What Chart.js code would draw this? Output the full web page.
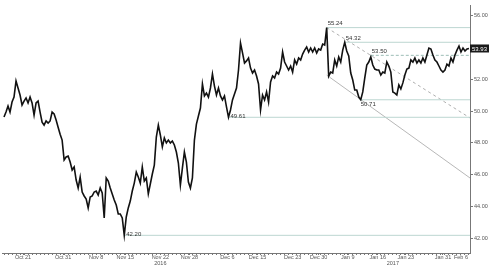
<!DOCTYPE html>
<html>
<head>
  <title>WTI</title>
  <script src="https://cdn.jsdelivr.net/npm/chart.js"></script>
  <style>
    html, body { margin: 0; padding: 0; background: #fff; }
    .wrap { width: 494px; height: 271px; }
  </style>
</head>
<body>
  <div class="wrap"><canvas id="oilChart"></canvas></div>
  <script>
    // one close every 2 bars along the x axis
    const priceValues = [
      49.63, 49.94, 50.32, 49.94, 50.57, 50.88, 51.89, 51.45, 51.01, 50.38,
      50.63, 50.82, 50.51, 50.88, 50.51, 49.75, 50.51, 50.63, 49.94, 49.31,
      49.12, 49.38, 49.25, 49.38, 49.94, 49.82, 49.44, 48.99, 48.55, 48.18,
      46.93, 47.12, 47.18, 46.80, 46.30, 46.49, 45.67, 45.17, 45.86, 44.92,
      44.67, 44.48, 43.92, 44.61, 44.67, 44.92, 44.98, 44.73, 45.17, 44.86,
      43.29, 45.80, 45.61, 45.17, 44.80, 44.42, 44.10, 43.54, 43.54, 43.29,
      42.20, 43.35, 43.92, 44.35, 44.98, 45.48, 46.17, 45.86, 45.48, 46.49,
      45.61, 45.80, 44.80, 45.42, 46.05, 46.61, 48.37, 49.12, 48.50, 47.75,
      48.31, 48.00, 48.18, 48.00, 48.12, 47.87, 47.43, 46.74, 45.36, 46.42,
      47.43, 46.80, 45.55, 45.17, 45.80, 48.18, 49.18, 49.69, 50.19, 51.70,
      50.95, 51.13, 50.88, 51.45, 52.33, 51.57, 51.01, 51.45, 50.95, 50.70,
      50.95, 50.26, 49.61, 50.07, 50.70, 51.07, 51.45, 52.58, 54.27, 53.65,
      53.02, 53.15, 53.33, 52.70, 52.39, 52.58, 52.20, 51.70, 50.07, 51.01,
      50.70, 51.20, 50.57, 51.83, 52.20, 52.08, 52.45, 52.33, 52.70, 53.71,
      53.08, 52.83, 52.58, 52.83, 52.45, 53.21, 52.95, 53.33, 53.21, 53.58,
      53.83, 54.02, 53.71, 53.96, 53.71, 53.96, 53.65, 53.90, 53.83, 54.21,
      54.15, 55.24, 52.20, 52.45, 52.39, 53.21, 52.83, 53.40, 53.08, 53.83,
      54.32, 53.77, 53.46, 52.39, 51.95, 51.32, 51.32, 50.88, 50.71, 51.20,
      52.08, 52.89, 53.08, 53.40, 52.89, 52.64, 52.58, 52.58, 52.26, 52.45,
      52.39, 53.08, 52.83, 52.45, 51.20, 51.13, 51.01, 51.64, 51.39, 51.77,
      52.26, 52.64, 52.70, 53.21, 53.08, 53.33, 53.02, 53.21, 53.02, 53.33,
      53.08, 53.52, 53.96, 53.90, 53.52, 53.21, 53.08, 52.83, 52.58, 52.45,
      52.58, 52.95, 52.83, 53.33, 53.08, 53.52, 53.83, 54.08, 53.71, 53.96,
      53.77, 53.90, 53.93
    ];

    const tickBars = [19, 59, 92, 121, 156, 185, 223, 253, 288, 314, 343, 373, 401, 438, 456];
    const tickLabels = ['Oct 21', 'Oct 31', 'Nov 8', 'Nov 15', 'Nov 22', 'Nov 28', 'Dec 6', 'Dec 15',
      'Dec 23', 'Dec 30', 'Jan 9', 'Jan 16', 'Jan 23', 'Jan 31', 'Feb 6'];
    const yearBars = [156, 388];
    const yearLabels = ['2016', '2017'];

    // support / resistance levels and where they start
    const levelValues = [55.24, 54.32, 53.50, 50.71, 49.61, 42.20];
    const levelStartBars = [322, 340, 366, 355, 224, 120];
    const levelLabelPos = ['above', 'above', 'above', 'below', 'on', 'on'];
    const lastBar = 465;

    // falling channel from the Jan 3 high
    const channelBars = [322, 465];
    const channelTop = [55.24, 49.57];
    const channelBottom = [52.26, 45.80];

    const lastPrice = priceValues[priceValues.length - 1];

    const pricePoints = priceValues.map((v, i) => ({ x: i * 2, y: v }));

    const levelSets = levelValues.map((v, i) => ({
      data: [{ x: levelStartBars[i], y: v }, { x: lastBar, y: v }],
      borderColor: v === 53.50 ? '#9dbdb6' : '#bcd6d1',
      borderWidth: 1,
      borderDash: v === 53.50 ? [3, 2] : [],
      pointRadius: 0
    }));

    const labelPlugin = {
      id: 'levelLabels',
      afterDraw(chart) {
        const { ctx, scales: { x, y } } = chart;
        ctx.save();
        ctx.font = '6px "Liberation Sans"';
        ctx.fillStyle = '#333';
        ctx.textAlign = 'left';
        levelValues.forEach((v, i) => {
          const px = x.getPixelForValue(levelStartBars[i]);
          const py = y.getPixelForValue(v);
          if (levelLabelPos[i] === 'below') {
            ctx.textBaseline = 'top';
            ctx.fillText(v.toFixed(2), px + 1, py + 2);
          } else if (levelLabelPos[i] === 'on') {
            ctx.textBaseline = 'bottom';
            ctx.fillText(v.toFixed(2), px + 2, py + 2);
          } else {
            ctx.textBaseline = 'bottom';
            ctx.fillText(v.toFixed(2), px + 1, py - 1);
          }
        });
        // last price tag on the axis
        const ty = y.getPixelForValue(lastPrice);
        const tx = chart.chartArea.right;
        ctx.fillStyle = '#1a1a1a';
        ctx.fillRect(tx, ty - 4, 19, 8);
        ctx.fillStyle = '#fff';
        ctx.textBaseline = 'middle';
        ctx.fillText(lastPrice.toFixed(2), tx + 2, ty + 0.5);
        ctx.restore();
      }
    };

    const ctx = document.getElementById('oilChart').getContext('2d');
    new Chart(ctx, {
      type: 'line',
      data: {
        datasets: [
          {
            data: pricePoints,
            borderColor: '#111',
            borderWidth: 1.6,
            pointRadius: 0,
            tension: 0
          },
          ...levelSets,
          {
            data: channelBars.map((b, i) => ({ x: b, y: channelTop[i] })),
            borderColor: '#9a9a9a',
            borderWidth: 0.8,
            borderDash: [3, 3],
            pointRadius: 0
          },
          {
            data: channelBars.map((b, i) => ({ x: b, y: channelBottom[i] })),
            borderColor: '#a5a5a5',
            borderWidth: 0.8,
            pointRadius: 0
          }
        ]
      },
      options: {
        responsive: true,
        maintainAspectRatio: false,
        animation: false,
        layout: { padding: { left: 2, top: 5, right: 0, bottom: 0 } },
        plugins: { legend: { display: false }, tooltip: { enabled: false } },
        scales: {
          x: {
            type: 'linear',
            min: -2,
            max: 465,
            afterFit: (scale) => { scale.height = 18; },
            afterBuildTicks: (scale) => {
              const set = new Set();
              for (let b = 0; b <= 464; b += 4) set.add(b);
              tickBars.forEach(b => set.add(b));
              yearBars.forEach(b => set.add(b));
              scale.ticks = [...set].sort((a, b) => a - b).map(v => ({ value: v }));
            },
            grid: { drawOnChartArea: false, tickLength: 2, color: '#777', tickColor: '#777' },
            border: { color: '#777', width: 1 },
            ticks: {
              autoSkip: false,
              maxRotation: 0,
              padding: 0,
              color: '#555',
              font: { family: 'Liberation Sans', size: 5.5, lineHeight: 1 },
              callback: (value) => {
                const i = tickBars.indexOf(value);
                const j = yearBars.indexOf(value);
                if (j >= 0) return [i >= 0 ? tickLabels[i] : '', yearLabels[j]];
                if (i >= 0) return tickLabels[i];
                return '';
              }
            }
          },
          y: {
            position: 'right',
            min: 41.09,
            max: 56.66,
            afterFit: (scale) => { scale.width = 24; },
            grid: { drawOnChartArea: false, tickLength: 3, color: '#777', tickColor: '#777' },
            border: { color: '#777', width: 1 },
            ticks: {
              stepSize: 2,
              includeBounds: false,
              padding: 1,
              color: '#555',
              font: { family: 'Liberation Sans', size: 5.5 },
              callback: (v) => v.toFixed(2)
            }
          }
        }
      },
      plugins: [labelPlugin]
    });
  </script>
</body>
</html>
